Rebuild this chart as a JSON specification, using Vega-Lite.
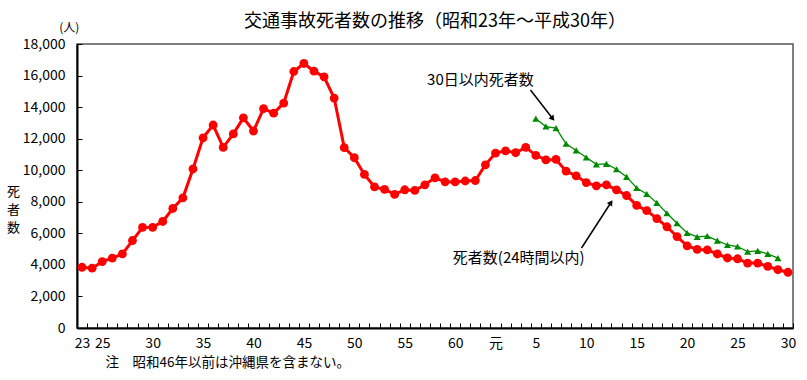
{
  "$schema": "https://vega.github.io/schema/vega-lite/v6.json",
  "width": 716,
  "height": 284,
  "autosize": {"type": "none"},
  "padding": {"left": 77, "top": 44, "right": 14, "bottom": 52},
  "background": "white",
  "config": {
    "font": "Noto Sans CJK JP",
    "view": {"stroke": "#555555", "strokeWidth": 1.5}
  },
  "title": {"text": "交通事故死者数の推移（昭和23年～平成30年）", "fontSize": 18, "fontWeight": "normal", "color": "black", "offset": 4, "dy": 13},
  "resolve": {"axis": {"x": "independent", "y": "independent"}},
  "datasets": {
    "deaths24": [
      {"year": 1948, "deaths": 3848}, {"year": 1949, "deaths": 3790}, {"year": 1950, "deaths": 4202}, {"year": 1951, "deaths": 4429},
      {"year": 1952, "deaths": 4696}, {"year": 1953, "deaths": 5544}, {"year": 1954, "deaths": 6374}, {"year": 1955, "deaths": 6379},
      {"year": 1956, "deaths": 6751}, {"year": 1957, "deaths": 7575}, {"year": 1958, "deaths": 8248}, {"year": 1959, "deaths": 10079},
      {"year": 1960, "deaths": 12055}, {"year": 1961, "deaths": 12865}, {"year": 1962, "deaths": 11445}, {"year": 1963, "deaths": 12301},
      {"year": 1964, "deaths": 13318}, {"year": 1965, "deaths": 12484}, {"year": 1966, "deaths": 13904}, {"year": 1967, "deaths": 13618},
      {"year": 1968, "deaths": 14256}, {"year": 1969, "deaths": 16257}, {"year": 1970, "deaths": 16765}, {"year": 1971, "deaths": 16278},
      {"year": 1972, "deaths": 15918}, {"year": 1973, "deaths": 14574}, {"year": 1974, "deaths": 11432}, {"year": 1975, "deaths": 10792},
      {"year": 1976, "deaths": 9734}, {"year": 1977, "deaths": 8945}, {"year": 1978, "deaths": 8783}, {"year": 1979, "deaths": 8466},
      {"year": 1980, "deaths": 8760}, {"year": 1981, "deaths": 8719}, {"year": 1982, "deaths": 9073}, {"year": 1983, "deaths": 9520},
      {"year": 1984, "deaths": 9262}, {"year": 1985, "deaths": 9261}, {"year": 1986, "deaths": 9317}, {"year": 1987, "deaths": 9347},
      {"year": 1988, "deaths": 10344}, {"year": 1989, "deaths": 11086}, {"year": 1990, "deaths": 11227}, {"year": 1991, "deaths": 11109},
      {"year": 1992, "deaths": 11452}, {"year": 1993, "deaths": 10945}, {"year": 1994, "deaths": 10653}, {"year": 1995, "deaths": 10684},
      {"year": 1996, "deaths": 9943}, {"year": 1997, "deaths": 9642}, {"year": 1998, "deaths": 9214}, {"year": 1999, "deaths": 9012},
      {"year": 2000, "deaths": 9073}, {"year": 2001, "deaths": 8757}, {"year": 2002, "deaths": 8396}, {"year": 2003, "deaths": 7768},
      {"year": 2004, "deaths": 7436}, {"year": 2005, "deaths": 6937}, {"year": 2006, "deaths": 6415}, {"year": 2007, "deaths": 5796},
      {"year": 2008, "deaths": 5209}, {"year": 2009, "deaths": 4979}, {"year": 2010, "deaths": 4948}, {"year": 2011, "deaths": 4691},
      {"year": 2012, "deaths": 4438}, {"year": 2013, "deaths": 4388}, {"year": 2014, "deaths": 4113}, {"year": 2015, "deaths": 4117},
      {"year": 2016, "deaths": 3904}, {"year": 2017, "deaths": 3694}, {"year": 2018, "deaths": 3532}
    ],
    "deaths30": [
      {"year": 1993, "deaths": 13269}, {"year": 1994, "deaths": 12768}, {"year": 1995, "deaths": 12670}, {"year": 1996, "deaths": 11674},
      {"year": 1997, "deaths": 11254}, {"year": 1998, "deaths": 10805}, {"year": 1999, "deaths": 10372}, {"year": 2000, "deaths": 10403},
      {"year": 2001, "deaths": 10060}, {"year": 2002, "deaths": 9575}, {"year": 2003, "deaths": 8877}, {"year": 2004, "deaths": 8492},
      {"year": 2005, "deaths": 7931}, {"year": 2006, "deaths": 7272}, {"year": 2007, "deaths": 6639}, {"year": 2008, "deaths": 6023},
      {"year": 2009, "deaths": 5772}, {"year": 2010, "deaths": 5828}, {"year": 2011, "deaths": 5535}, {"year": 2012, "deaths": 5261},
      {"year": 2013, "deaths": 5165}, {"year": 2014, "deaths": 4838}, {"year": 2015, "deaths": 4885}, {"year": 2016, "deaths": 4698},
      {"year": 2017, "deaths": 4431}
    ],
    "one": [{}]
  },
  "layer": [
    {
      "data": {"name": "deaths24"},
      "mark": {"type": "line", "color": "#ff0000", "strokeWidth": 3, "point": {"filled": true, "size": 78, "color": "#ff0000", "opacity": 1}},
      "encoding": {
        "x": {
          "field": "year", "type": "quantitative",
          "scale": {"domain": [1947.5, 2018.5], "nice": false, "zero": false},
          "axis": {
            "title": "注　昭和46年以前は沖縄県を含まない。",
            "titleFontSize": 13.5, "titleFontWeight": "normal", "titleColor": "black",
            "titleAnchor": "start", "titleAlign": "left", "titleX": 28, "titleY": 34, "titleBaseline": "middle",
            "values": [1947.5,1948.5,1949.5,1950.5,1951.5,1952.5,1953.5,1954.5,1955.5,1956.5,1957.5,1958.5,1959.5,1960.5,1961.5,1962.5,1963.5,1964.5,1965.5,1966.5,1967.5,1968.5,1969.5,1970.5,1971.5,1972.5,1973.5,1974.5,1975.5,1976.5,1977.5,1978.5,1979.5,1980.5,1981.5,1982.5,1983.5,1984.5,1985.5,1986.5,1987.5,1988.5,1989.5,1990.5,1991.5,1992.5,1993.5,1994.5,1995.5,1996.5,1997.5,1998.5,1999.5,2000.5,2001.5,2002.5,2003.5,2004.5,2005.5,2006.5,2007.5,2008.5,2009.5,2010.5,2011.5,2012.5,2013.5,2014.5,2015.5,2016.5,2017.5,2018.5],
            "labelExpr": "(datum.value+0.5)==1948?'23':(datum.value+0.5)==1989?'元':((datum.value+0.5)<=1985&&(datum.value+0.5)%5==0)?''+(datum.value+0.5-1925):((datum.value+0.5)>=1993&&(datum.value+0.5)%5==3)?''+(datum.value+0.5-1988):''",
            "labelOffset": 5.04, "labelOverlap": false, "labelBound": false, "labelFlush": false,
            "labelFontSize": 14, "labelColor": "black", "labelBaseline": "middle", "labelPadding": 20,
            "tickSize": -5, "tickColor": "black", "tickWidth": 1,
            "domainColor": "black", "domainWidth": 2, "grid": false
          }
        },
        "y": {
          "field": "deaths", "type": "quantitative",
          "scale": {"domain": [0, 18000], "nice": false},
          "axis": {
            "title": ["死", "者", "数"], "titleAngle": 0, "titleX": -64, "titleY": 147,
            "titleBaseline": "middle", "titleAlign": "center", "titleLineHeight": 18,
            "titleFontSize": 13, "titleFontWeight": "normal", "titleColor": "black",
            "values": [0, 2000, 4000, 6000, 8000, 10000, 12000, 14000, 16000, 18000],
            "format": ",.0f", "labelOverlap": false, "labelBound": false,
            "labelFontSize": 14, "labelColor": "black", "labelPadding": 17,
            "tickSize": -5, "tickColor": "black", "domainColor": "black", "domainWidth": 2, "grid": false
          }
        }
      }
    },
    {
      "data": {"name": "deaths30"},
      "mark": {"type": "line", "color": "#008a00", "strokeWidth": 1.3, "point": {"shape": "triangle-up", "filled": true, "size": 50, "color": "#008a00", "opacity": 1}},
      "encoding": {
        "x": {"field": "year", "type": "quantitative", "axis": null},
        "y": {"field": "deaths", "type": "quantitative", "axis": null}
      }
    },
    {
      "data": {"name": "one"},
      "mark": {"type": "text", "fontSize": 12, "color": "black", "align": "center", "baseline": "middle"},
      "encoding": {
        "x": {"datum": 1946.74, "type": "quantitative", "axis": null},
        "y": {"datum": 19014, "type": "quantitative", "axis": null},
        "text": {"value": "(人)"}
      }
    },
    {
      "data": {"name": "one"},
      "mark": {"type": "text", "fontSize": 15, "color": "black", "align": "center", "baseline": "middle"},
      "encoding": {
        "x": {"datum": 1987.5, "type": "quantitative", "axis": null},
        "y": {"datum": 15718, "type": "quantitative", "axis": null},
        "text": {"value": "30日以内死者数"}
      }
    },
    {
      "data": {"name": "one"},
      "mark": {"type": "text", "fontSize": 15, "color": "black", "align": "center", "baseline": "middle"},
      "encoding": {
        "x": {"datum": 1991.3, "type": "quantitative", "axis": null},
        "y": {"datum": 4405, "type": "quantitative", "axis": null},
        "text": {"value": "死者数(24時間以内)"}
      }
    },
    {
      "data": {"name": "one"},
      "mark": {"type": "rule", "color": "black", "strokeWidth": 1.5},
      "encoding": {
        "x": {"datum": 1992.47, "type": "quantitative", "axis": null},
        "y": {"datum": 15084, "type": "quantitative", "axis": null},
        "x2": {"datum": 1994.7},
        "y2": {"datum": 13250}
      }
    },
    {
      "data": {"name": "one"},
      "mark": {"type": "point", "shape": "triangle-up", "filled": true, "size": 40, "color": "black", "opacity": 1, "angle": 142},
      "encoding": {
        "x": {"datum": 1994.67, "type": "quantitative", "axis": null},
        "y": {"datum": 13272, "type": "quantitative", "axis": null}
      }
    },
    {
      "data": {"name": "one"},
      "mark": {"type": "rule", "color": "black", "strokeWidth": 1.5},
      "encoding": {
        "x": {"datum": 1997.53, "type": "quantitative", "axis": null},
        "y": {"datum": 5070, "type": "quantitative", "axis": null},
        "x2": {"datum": 2000.45},
        "y2": {"datum": 7954}
      }
    },
    {
      "data": {"name": "one"},
      "mark": {"type": "point", "shape": "triangle-up", "filled": true, "size": 40, "color": "black", "opacity": 1, "angle": 33},
      "encoding": {
        "x": {"datum": 2000.45, "type": "quantitative", "axis": null},
        "y": {"datum": 7954, "type": "quantitative", "axis": null}
      }
    }
  ]
}
